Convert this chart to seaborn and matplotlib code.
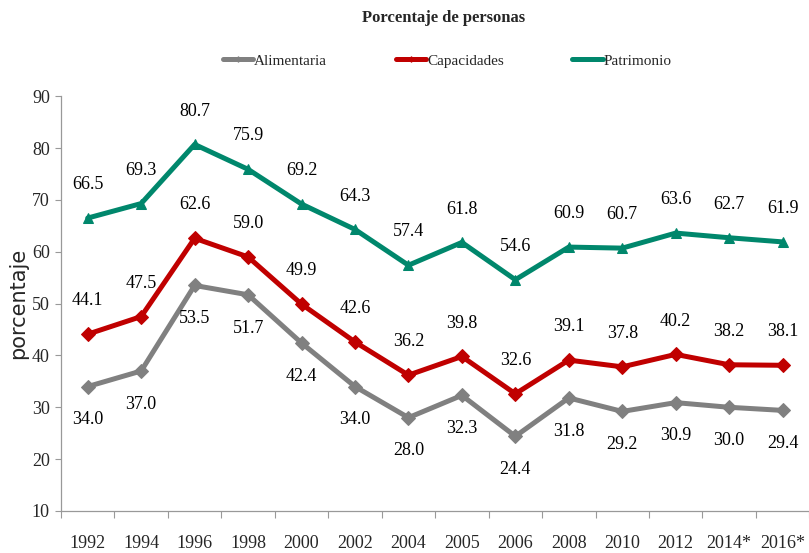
import numpy as np
import pandas as pd
import seaborn as sns
import matplotlib.pyplot as plt

# === DATA ===
years = ["1992", "1994", "1996", "1998", "2000", "2002", "2004", "2005",
         "2006", "2008", "2010", "2012", "2014*", "2016*"]
alimentaria = [34.0, 37.0, 53.5, 51.7, 42.4, 34.0, 28.0, 32.3, 24.4, 31.8, 29.2, 30.9, 30.0, 29.4]
capacidades = [44.1, 47.5, 62.6, 59.0, 49.9, 42.6, 36.2, 39.8, 32.6, 39.1, 37.8, 40.2, 38.2, 38.1]
patrimonio = [66.5, 69.3, 80.7, 75.9, 69.2, 64.3, 57.4, 61.8, 54.6, 60.9, 60.7, 63.6, 62.7, 61.9]
series_names = ["Alimentaria", "Capacidades", "Patrimonio"]

# === Style ===
sns.set_theme(style="white")
plt.rcParams['font.family'] = ['Liberation Serif', 'DejaVu Serif']
colors = {"Alimentaria": "#808080", "Capacidades": "#C00000", "Patrimonio": "#00876C"}
markers = {"Alimentaria": "D", "Capacidades": "D", "Patrimonio": "^"}
label_side = {"Alimentaria": -1, "Capacidades": 1, "Patrimonio": 1}

pos = np.arange(len(years))
df = pd.DataFrame({
    "pos": np.tile(pos, 3),
    "valor": alimentaria + capacidades + patrimonio,
    "serie": np.repeat(series_names, len(years)),
})

fig = plt.figure(figsize=(8.09, 5.53), dpi=100, facecolor='white')
ax = fig.add_axes([0.0754, 0.076, 0.925, 0.750])

for name in series_names:
    sub = df[df["serie"] == name]
    sns.lineplot(data=sub, x="pos", y="valor", ax=ax, color=colors[name],
                 linewidth=3.6, marker=markers[name], markersize=7,
                 markeredgecolor=colors[name], label=name, sort=False)
    for x, v in zip(sub["pos"], sub["valor"]):
        ax.annotate(f"{v:.1f}", (x, v), xytext=(0, 24 * label_side[name]),
                    textcoords="offset points", ha="center", va="center",
                    fontsize=13, color="black")

ax.set_xlim(-0.5, len(years) - 0.5)
ax.set_ylim(10, 90)
ax.set_yticks(range(10, 91, 10))
ax.set_xticks(pos)
ax.set_xticklabels(years)
ax.set_xticks(np.arange(-0.5, len(years), 1), minor=True)
ax.tick_params(axis="x", which="major", length=0, pad=17, labelsize=13)
ax.tick_params(axis="x", which="minor", length=5, width=0.8, color="#999999", direction="out")
ax.tick_params(axis="y", length=4, width=0.8, color="#999999", direction="out", pad=4, labelsize=13)
ax.xaxis.set_ticks_position("bottom")
ax.yaxis.set_ticks_position("left")

for side in ["top", "right"]:
    ax.spines[side].set_visible(False)
for side in ["left", "bottom"]:
    ax.spines[side].set_color("#999999")
    ax.spines[side].set_linewidth(0.9)

ax.set_xlabel("")
ax.set_ylabel("porcentaje", fontsize=15, family="DejaVu Sans", labelpad=3)

leg = ax.legend(loc="center", bbox_to_anchor=(0.516, 1.085), ncol=3, frameon=False,
                fontsize=11, handlelength=2.0, handletextpad=0.05, columnspacing=4.5,
                markerscale=0.4)

fig.text(0.548, 0.967, "Porcentaje de personas", ha="center", va="center",
         fontsize=12, fontweight="bold")

plt.savefig("out.png", dpi=100, facecolor="white")
